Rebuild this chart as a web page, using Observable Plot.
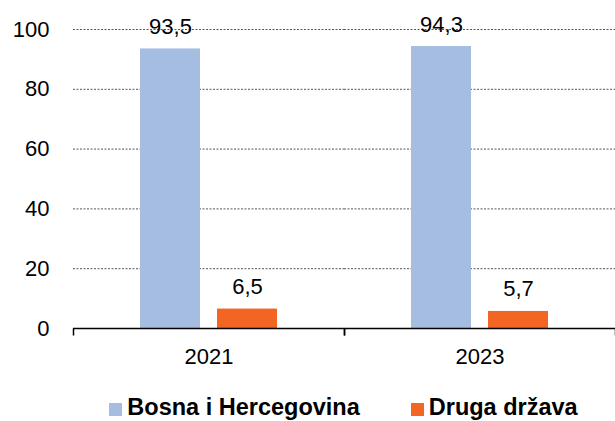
<!DOCTYPE html>
<html><head><meta charset="utf-8">
<script src="https://cdn.jsdelivr.net/npm/d3@7"></script>
<script src="https://cdn.jsdelivr.net/npm/@observablehq/plot@0.6"></script>
<style>
body{margin:0;background:#fff;font-family:"Liberation Sans",Arial,sans-serif;}
#chart{width:615px;height:421px;overflow:hidden}
#chart svg{display:block}
#chart svg text{font-family:"Liberation Sans",Arial,sans-serif;font-size:22px;fill:#000}
.legend{display:flex;justify-content:center;gap:51px;margin-left:72px;margin-top:8px;width:543px;font-weight:bold;font-size:23.5px;color:#000;line-height:28px;}
.item{display:flex;align-items:center;gap:5px}
.sw{width:13px;height:13px;display:inline-block;margin-top:4px}
</style></head><body><div id="chart"></div>
<script>
const years = ["2021", "2023"];
const series = ["Bosna i Hercegovina", "Druga država"];
const bih = [93.5, 94.3];
const druga = [6.5, 5.7];
const colors = ["#a4bde1", "#f26522"];
const yTicks = [0, 20, 40, 60, 80, 100];

const data = years.flatMap((y, i) => [
  {year: y, series: series[0], value: bih[i]},
  {year: y, series: series[1], value: druga[i]}
]);
const fmt = v => v.toFixed(1).replace(".", ",");
const tickSymbol = {draw(ctx) { ctx.moveTo(0, 0); ctx.lineTo(0, 7); }};

const plot = Plot.plot({
  width: 615, height: 385, marginLeft: 72, marginRight: 0, marginTop: 29, marginBottom: 57,
  style: {fontFamily: "Liberation Sans, Arial, sans-serif", fontSize: "22px", color: "#000", background: "#fff"},
  fx: {domain: years, padding: 0, label: null, tickSize: 0, tickPadding: 20},
  x: {domain: series, paddingInner: 0.218, paddingOuter: 0.85, axis: null},
  y: {domain: [0, 100], ticks: yTicks, label: null, tickSize: 0, tickPadding: 24},
  color: {domain: series, range: colors},
  marks: [
    Plot.ruleY(yTicks.filter(t => t > 0), {stroke: "#555", strokeDasharray: "2,1.5"}),
    Plot.barY(data, {fx: "year", x: "series", y: "value", fill: "series"}),
    Plot.text(data, {fx: "year", x: "series", y: "value", text: d => fmt(d.value), lineAnchor: "bottom", dy: -15, fontSize: 22, fill: "#000"}),
    Plot.ruleY([0], {stroke: "#000", strokeWidth: 1.5}),
    Plot.dot([0], {frameAnchor: "bottom-left", symbol: tickSymbol, stroke: "#000", fill: "none", strokeWidth: 1.5}),
    Plot.dot([0], {frameAnchor: "bottom-right", symbol: tickSymbol, stroke: "#000", fill: "none", strokeWidth: 1.5})
  ]
});
const chart = document.getElementById("chart");
chart.appendChild(plot);
const legend = document.createElement("div");
legend.className = "legend";
series.forEach((s, i) => {
  const it = document.createElement("div");
  it.className = "item";
  const sw = document.createElement("span");
  sw.className = "sw";
  sw.style.background = colors[i];
  const t = document.createElement("span");
  t.textContent = s;
  it.appendChild(sw); it.appendChild(t);
  legend.appendChild(it);
});
chart.appendChild(legend);
</script></body></html>
